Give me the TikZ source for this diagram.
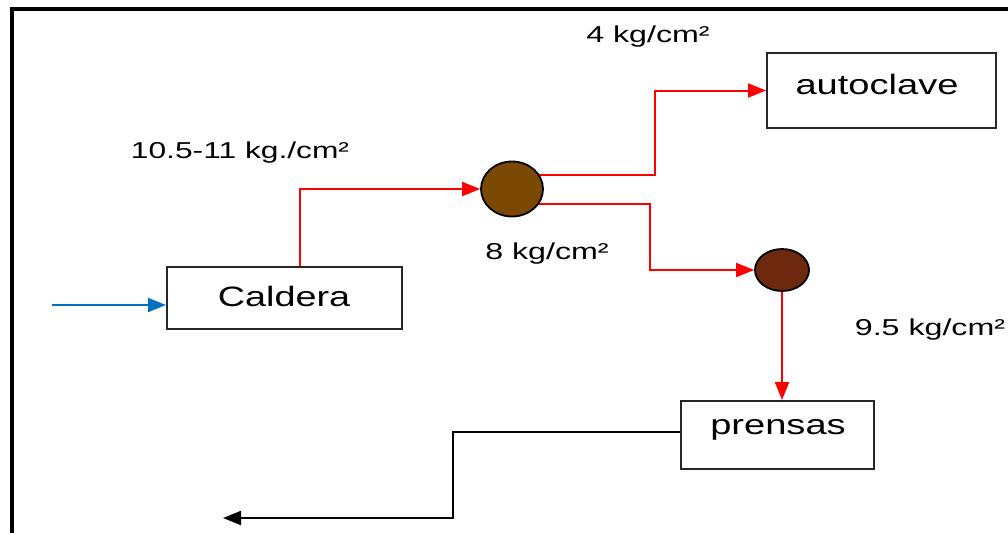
\documentclass[tikz,border=0pt]{standalone}
\usepackage{fontspec}
\setmainfont{Liberation Sans}
\usetikzlibrary{arrows.meta,shapes.geometric,backgrounds}
\definecolor{redline}{RGB}{255,0,0}
\definecolor{blueline}{RGB}{0,112,192}
\definecolor{brownA}{RGB}{122,72,0}
\definecolor{brownB}{RGB}{110,40,14}
\newcommand\hsc[2]{\scalebox{#1}[1]{#2}}
\tikzset{
  box/.style={draw=black!85, line width=2pt, inner sep=0pt},
  boxtext/.style={font=\fontsize{28}{28}\selectfont},
  lbl/.style={font=\fontsize{23}{23}\selectfont, inner sep=0pt},
  valve/.style={draw=black, line width=1.8pt, ellipse, inner sep=0pt},
  redarrow/.style={draw=redline, line width=2pt, -{Triangle[length=18pt,width=14pt]}},
  tip/.style={-{Triangle[length=18pt,width=14pt]}},
}
\begin{document}
\begin{tikzpicture}[x=1pt,y=-1pt]
\useasboundingbox (0,0) rectangle (1008,533);
\begin{pgfonlayer}{background}
\fill[white] (0,0) rectangle (1008,533);
\end{pgfonlayer}
% frame
\draw[line width=4pt] (12,533) -- (12,9) -- (1008,9);
% boxes
\node[box, minimum width=235pt, minimum height=62pt] (cal) at (284.5,298) {};
\node[boxtext] (calt) at (284,296) {\hsc{1.35}{Caldera}};
\node[box, minimum width=229pt, minimum height=75pt] (aut) at (881.5,90.5) {};
\node[boxtext] (autt) at (877,84) {\hsc{1.36}{autoclave}};
\node[box, minimum width=193pt, minimum height=68pt] (pre) at (777.5,435) {};
\node[boxtext] (pret) at (778,430) {\hsc{1.36}{prensas}};
% valves
\node[valve, fill=brownA, minimum width=62pt, minimum height=55pt] (v1) at (512,189) {};
\node[valve, fill=brownB, minimum width=54pt, minimum height=42pt] (v2) at (782,270) {};
% labels
\node[lbl] (l1) at (240,153) {\hsc{1.38}{10.5-11 kg./cm²}};
\node[lbl] (l2) at (648,37) {\hsc{1.4}{4 kg/cm²}};
\node[lbl] (l3) at (547,254) {\hsc{1.4}{8 kg/cm²}};
\node[lbl] (l4) at (930,330) {\hsc{1.4}{9.5 kg/cm²}};
% coordinates
\coordinate (bin) at (52,305);
\coordinate (out) at (223,518);
% connectors
\draw[draw=blueline, line width=1.8pt, tip, fill=blueline] (bin) -- (cal.west |- bin);
\draw[redarrow] (cal.north -| 300,0) |- (v1.west);
\begin{pgfonlayer}{background}
\draw[redarrow] (v1.center |- 0,175) -- (655,175) |- (aut.west);
\draw[redarrow] (v1.center |- 0,204) -- (650,204) |- (v2.west);
\end{pgfonlayer}
\draw[redarrow] (v2.south) -- (v2.south |- pre.north);
\draw[line width=2pt, tip] (pre.west |- 0,432) -- (453,432) |- (out);
\end{tikzpicture}
\end{document}
